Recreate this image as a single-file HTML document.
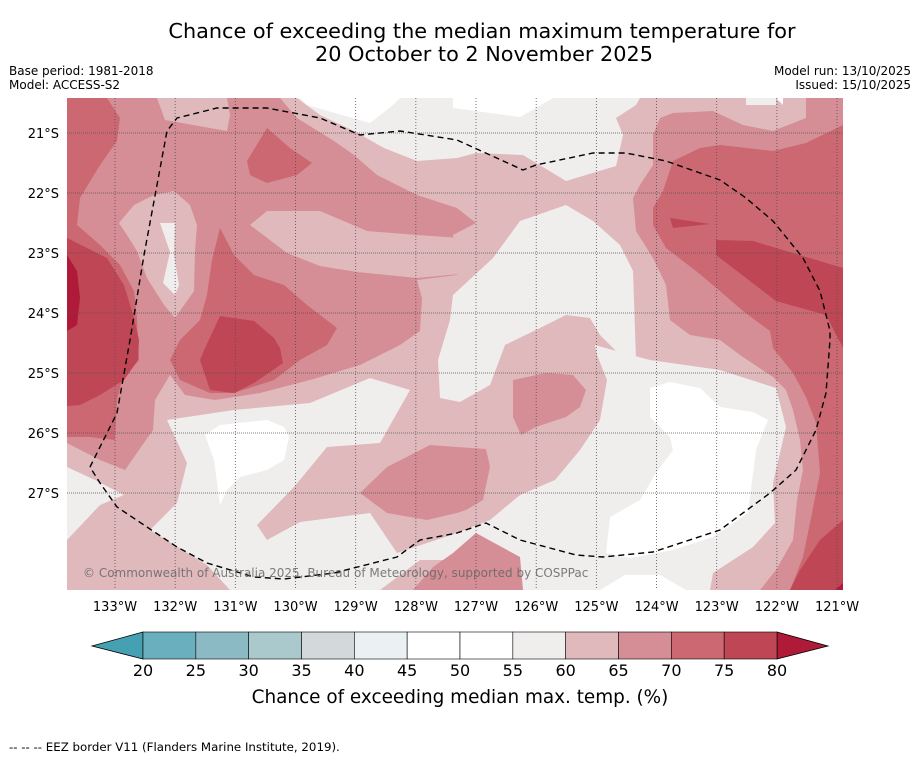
<!DOCTYPE html>
<html><head><meta charset="utf-8"><style>
body{margin:0;background:#fff;font-family:"DejaVu Sans","Liberation Sans",sans-serif}
svg{display:block}
</style></head><body>
<svg width="919" height="758" viewBox="0 0 919 758" font-family="DejaVu Sans, Liberation Sans, sans-serif">
<text x="482" y="38" font-size="20.8" text-anchor="middle" fill="#000">Chance of exceeding the median maximum temperature for</text>
<text x="484" y="61" font-size="20.8" text-anchor="middle" fill="#000">20 October to 2 November 2025</text>
<text x="9" y="75" font-size="12">Base period: 1981-2018</text>
<text x="9" y="89" font-size="12">Model: ACCESS-S2</text>
<text x="911" y="75" font-size="12" text-anchor="end">Model run: 13/10/2025</text>
<text x="911" y="89" font-size="12" text-anchor="end">Issued: 15/10/2025</text>
<defs><clipPath id="mc"><rect x="67" y="98" width="776" height="492"/></clipPath></defs>
<g clip-path="url(#mc)">
<rect x="67" y="98" width="776" height="492" fill="#e0b9bc"/>
<g fill="#efeeed">
<polygon points="297,98 640,98 636,105 616,118 623,135 616,166 566,181 523,155 476,153 457,158 417,161 384,148 354,131 320,115"/>
<polygon points="453,295 493,258 520,221 566,205 593,221 620,245 633,271 636,360 620,355 600,335 590,318 566,315 540,328 505,345 490,385 460,402 440,398 438,360 450,320"/>
<polygon points="167,420 234,410 310,403 370,378 410,390 380,443 327,447 294,487 257,525 267,540 300,522 370,513 397,553 457,533 490,520 520,495 555,480 580,450 600,420 607,380 597,355 595,345 620,352 650,360 720,370 776,388 786,427 773,483 775,523 753,547 713,573 710,590 520,590 520,560 490,545 457,560 420,560 380,590 230,590 207,565 150,530 177,503 187,463"/>
<polygon points="67,467 95,480 124,495 100,505 67,540"/>
<polygon points="746,98 776,98 776,105 746,105"/>
</g>
<g fill="#ffffff">
<polygon points="300,98 307,105 370,123 393,105 400,98"/>
<polygon points="453,98 453,108 520,117 553,98"/>
<polygon points="205,435 220,425 267,420 284,427 289,437 284,460 267,470 240,477 227,490 220,505 214,460"/>
<polygon points="650,388 670,382 700,388 720,407 753,412 768,420 756,450 748,513 713,537 673,550 630,558 606,553 610,517 640,500 656,473 673,450 670,437 650,417"/>
<polygon points="600,590 625,575 660,575 686,590"/>
<polygon points="776,98 783,105 783,98"/>
</g>
<g fill="#d58e95">
<polygon points="67,98 157,98 165,120 227,131 230,115 227,98 280,98 297,118 334,141 354,155 377,175 417,195 457,208 476,223 453,235 457,275 417,280 422,298 420,331 400,345 360,365 310,380 260,393 215,400 185,395 170,375 155,400 153,430 125,470 100,460 67,443"/>
<polygon points="660,118 673,113 713,111 743,125 773,131 806,118 806,98 843,98 843,590 760,590 776,570 793,540 797,500 803,470 800,440 793,410 786,390 773,377 740,355 720,340 690,335 670,320 666,285 653,258 636,231 633,198 640,185 653,165 653,135"/>
<polygon points="513,380 546,373 573,375 586,390 580,407 566,417 536,427 521,435 513,417"/>
<polygon points="360,493 387,467 430,445 457,447 486,449 490,467 483,500 466,510 457,513 427,520 387,513"/>
<polygon points="413,590 433,567 453,553 476,533 520,557 523,590"/>
</g>
<g fill="#e0b9bc">
<polygon points="119,223 134,205 154,195 174,191 190,205 197,225 195,251 194,291 175,318 164,305 147,278 137,251 127,235"/>
<polygon points="250,225 267,211 320,211 367,231 417,235 460,238 460,274 417,278 357,272 320,266 287,253"/>
</g>
<polygon fill="#efeeed" points="160,223 175,223 174,255 179,285 175,295 163,283 170,252"/>
<g fill="#cb6872">
<polygon points="67,98 107,98 120,118 117,141 100,165 80,198 77,225 100,245 120,265 134,291 137,318 138,340 139,360 122,380 117,400 115,440 90,437 67,437"/>
<polygon points="220,228 234,255 254,275 284,285 307,305 337,328 327,345 300,360 274,380 234,393 210,393 180,380 170,360 180,340 200,320 207,295 212,260"/>
<polygon points="247,161 267,128 290,148 312,163 297,175 267,183 250,175"/>
<polygon points="673,161 700,148 720,145 773,151 806,143 843,125 843,590 790,590 803,557 810,523 820,473 816,423 806,397 793,373 773,348 770,331 743,311 720,291 696,271 666,248 653,225 653,208 663,191"/>
</g>
<g fill="#bf4654">
<polygon points="67,238 87,248 107,258 124,285 134,318 139,340 138,360 124,380 100,395 80,405 67,406"/>
<polygon points="205,348 220,316 254,321 274,338 280,348 283,363 254,383 234,393 210,390 200,360"/>
<polygon points="670,218 710,224 673,228"/>
<polygon points="716,240 753,241 776,248 843,268 843,348 826,315 776,301 716,255"/>
<polygon points="843,520 820,540 800,570 790,590 843,590"/>
</g>
<g fill="#ae1a37">
<polygon points="67,255 77,271 80,298 77,325 67,331"/>
<polygon points="835,590 843,583 843,590"/>
</g>
<g id="grid"></g>
<polyline fill="none" stroke="#000" stroke-width="1.4" stroke-dasharray="6,4" points="90,467 117,413 130,340 144,255 167,131 177,118 217,108 267,108 320,118 360,135 400,131 457,140 523,170 536,165 593,153 626,153 666,161 720,180 746,198 773,221 803,258 820,291 830,331 830,340 826,393 816,430 796,470 770,493 720,530 653,552 603,557 576,555 520,540 486,523 457,533 420,540 397,557 334,573 284,579 254,577 207,563 177,547 147,527 117,507 100,483 90,467"/>
<text x="83" y="577" font-size="12" fill="#666" fill-opacity="0.85">© Commonwealth of Australia 2025, Bureau of Meteorology, supported by COSPPac</text>
</g>
<g id="axes"></g>
<g id="cbar"></g>
<text x="460" y="703" font-size="18.4" text-anchor="middle">Chance of exceeding median max. temp. (%)</text>
<text x="9" y="751" font-size="11.8">--  --  -- EEZ border V11 (Flanders Marine Institute, 2019).</text>
</svg>
<script>
const lonTicks=[133,132,131,130,129,128,127,126,125,124,123,122,121];
const latTicks=[21,22,23,24,25,26,27];
const cbLevels=[20,25,30,35,40,45,50,55,60,65,70,75,80];
const cbColors=["#6aafbd","#8bbac5","#a9c9cd","#d3d8db","#ebf0f3","#ffffff","#ffffff","#efeeed","#e0b9bc","#d58e95","#cb6872","#bf4654"];
const cbUnder="#45a1b1", cbOver="#ae1a37";
const NS="http://www.w3.org/2000/svg";
function xLon(l){return 115+(133-l)*60.17;}
function yLat(l){return 133+(l-21)*60;}
function xCb(v){return 143+(v-20)*(634/60);}
function mk(t,a,p){const e=document.createElementNS(NS,t);for(const k in a)e.setAttribute(k,a[k]);p.appendChild(e);return e;}
const grid=document.getElementById('grid'),axes=document.getElementById('axes'),cb=document.getElementById('cbar');
lonTicks.forEach(l=>{
 const x=xLon(l);
 const ln=mk('line',{x1:x,x2:x,y1:98,y2:590,stroke:'#5a4a5a','stroke-width':0.8,'stroke-dasharray':'1,2'},grid);
 
 
 const t=mk('text',{x:x,y:611,'font-size':13,'text-anchor':'middle'},axes);t.textContent=l+'°W';
 
 
});
latTicks.forEach(l=>{
 const y=yLat(l);
 const ln=mk('line',{x1:67,x2:843,y1:y,y2:y,stroke:'#555','stroke-width':0.8,'stroke-dasharray':'1,1'},grid);
 
 
 const t=mk('text',{x:59,y:y+5,'font-size':13,'text-anchor':'end'},axes);t.textContent=l+'°S';
 
 
});
const u=mk('polygon',{points:`92,646 ${xCb(20)},632 ${xCb(20)},659`,fill:cbUnder,stroke:'#000','stroke-width':0.8},cb);


const o=mk('polygon',{points:`828,646 ${xCb(80)},632 ${xCb(80)},659`,fill:cbOver,stroke:'#000','stroke-width':0.8},cb);


cbColors.forEach((c,i)=>{
 const x0=xCb(cbLevels[i]),x1=xCb(cbLevels[i+1]);
 const r=mk('rect',{x:x0,y:632,width:x1-x0,height:27,fill:c,stroke:'#000','stroke-width':0.6},cb);
 
 
});
cbLevels.forEach(v=>{
 const t=mk('text',{x:xCb(v),y:676,'font-size':16,'text-anchor':'middle'},cb);t.textContent=v;
 
 
});
</script>
</body></html>
